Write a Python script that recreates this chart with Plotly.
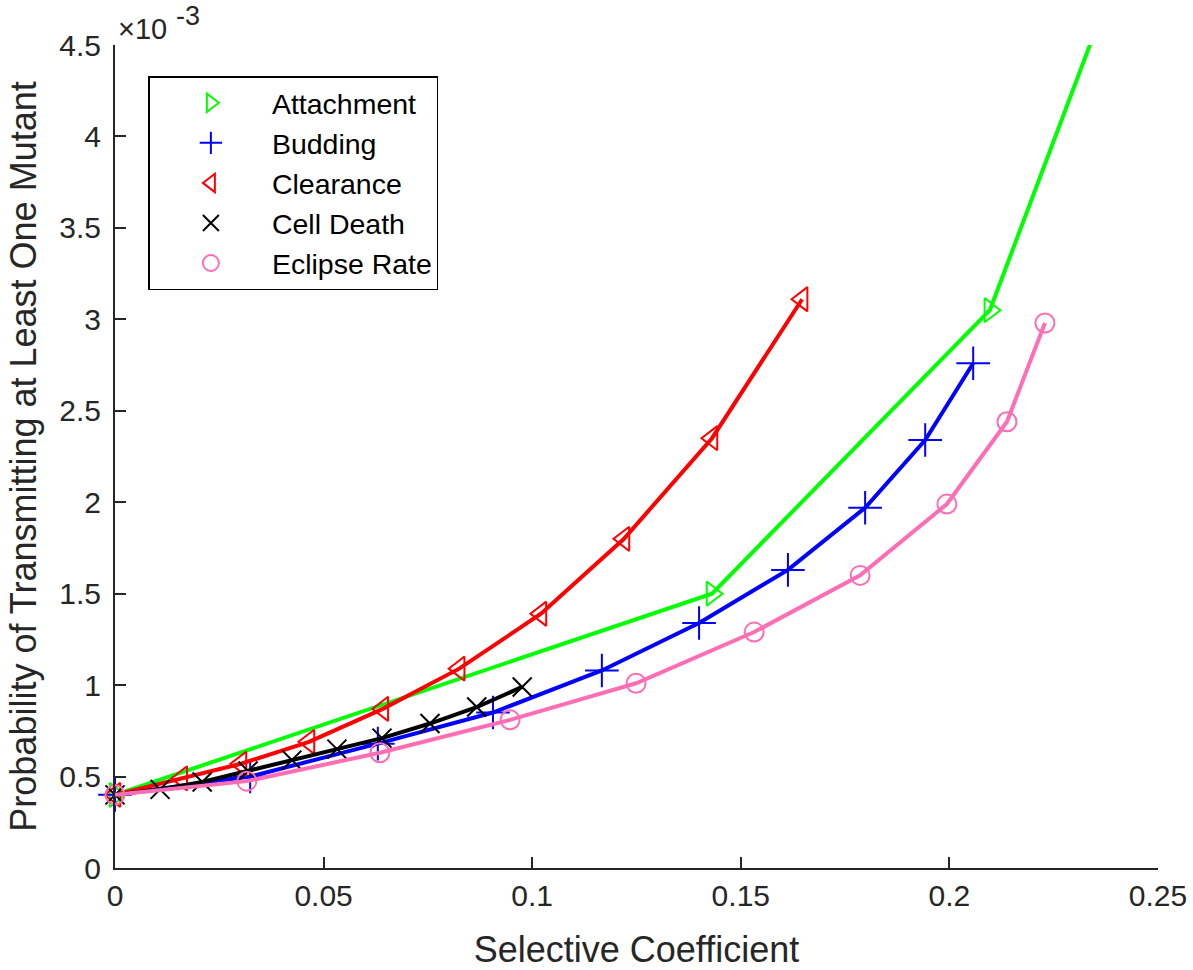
import plotly.graph_objects as go

# ---- data (probability values) ----
att_x = [0.0, 0.1431, 0.2097, 0.2403]
att_y = [0.00040, 0.00150, 0.00305, 0.00490]

bud_x = [0.0, 0.0324, 0.0630, 0.0906, 0.1167, 0.1400, 0.1613, 0.1798, 0.1942, 0.2057]
bud_y = [0.00040, 0.00050, 0.00068, 0.00085, 0.00108, 0.00134, 0.00163, 0.00197, 0.00234, 0.00276]

clr_x = [0.0, 0.0160, 0.0302, 0.0465, 0.0642, 0.0825, 0.1021, 0.1220, 0.1431, 0.1647]
clr_y = [0.00040, 0.00049, 0.00057, 0.00069, 0.00087, 0.00109, 0.00139, 0.00180, 0.00235, 0.00311]

cd_x = [0.0, 0.0108, 0.0209, 0.0319, 0.0424, 0.0532, 0.0640, 0.0755, 0.0867, 0.0976]
cd_y = [0.00040, 0.00043, 0.00047, 0.00053, 0.00059, 0.00065, 0.00071, 0.00079, 0.00088, 0.00099]

ecl_x = [0.0, 0.0316, 0.0635, 0.0947, 0.1249, 0.1532, 0.1786, 0.1994, 0.2138, 0.2229]
ecl_y = [0.00040, 0.000475, 0.00063, 0.00081, 0.00101, 0.00129, 0.00160, 0.00199, 0.00244, 0.00298]

x_ticks = [0, 0.05, 0.1, 0.15, 0.2, 0.25]
x_tick_text = ["0", "0.05", "0.1", "0.15", "0.2", "0.25"]
y_ticks = [0, 0.0005, 0.001, 0.0015, 0.002, 0.0025, 0.003, 0.0035, 0.004, 0.0045]
y_tick_text = ["0", "0.5", "1", "1.5", "2", "2.5", "3", "3.5", "4", "4.5"]

X_RANGE = [0, 0.25]
Y_RANGE = [0, 0.0045]

series = [
    ("Attachment", att_x, att_y, "#00FF00", "triangle-right-open", 21),
    ("Budding", bud_x, bud_y, "#0000FF", "cross-thin-open", 24),
    ("Clearance", clr_x, clr_y, "#FF0000", "triangle-left-open", 21),
    ("Cell Death", cd_x, cd_y, "#000000", "x-thin-open", 19),
    ("Eclipse Rate", ecl_x, ecl_y, "#FF6EB4", "circle-open", 19),
]

FONT = "Liberation Sans, Arial, Helvetica, sans-serif"
AX = "#262626"

fig = go.Figure()
for name, xs, ys, col, sym, msize in series:
    fig.add_trace(go.Scatter(x=xs, y=ys, mode="lines", line=dict(color=col, width=4),
                             showlegend=False, hoverinfo="skip"))
    inx = [x for x, y in zip(xs, ys) if y <= Y_RANGE[1]]
    iny = [y for y in ys if y <= Y_RANGE[1]]
    fig.add_trace(go.Scatter(x=inx, y=iny, mode="markers", name=name, cliponaxis=False,
                             marker=dict(symbol=sym, size=msize, color=col,
                                         line=dict(color=col, width=2))))

fig.update_layout(
    width=1193, height=970,
    margin=dict(l=115, r=35, t=45, b=102),
    paper_bgcolor="white", plot_bgcolor="white",
    font=dict(family=FONT, color=AX),
    legend=dict(x=0.032, y=0.962, xanchor="left", yanchor="top",
                bordercolor="#000000", borderwidth=1.5, bgcolor="white",
                font=dict(family=FONT, size=28.5, color="#000000"),
                itemwidth=112, tracegroupgap=0),
    xaxis=dict(range=X_RANGE, tickvals=x_ticks, ticktext=x_tick_text, automargin=False,
               showgrid=False, zeroline=False, showline=True, linecolor=AX, linewidth=2,
               ticks="inside", ticklen=11, tickwidth=1.5, tickcolor=AX,
               tickfont=dict(size=30, color=AX),
               title=dict(text="Selective Coefficient", font=dict(size=36, color=AX), standoff=26)),
    yaxis=dict(range=Y_RANGE, tickvals=y_ticks, ticktext=y_tick_text, automargin=False,
               showgrid=False, zeroline=False, showline=True, linecolor=AX, linewidth=2,
               ticks="inside", ticklen=11, tickwidth=1.5, tickcolor=AX,
               tickfont=dict(size=30, color=AX), ticklabelstandoff=6,
               title=dict(text="Probability of Transmitting at Least One Mutant",
                          font=dict(size=36, color=AX), standoff=12)),
)

fig.add_annotation(xref="paper", yref="paper", x=0.0, y=1.0, xanchor="left", yanchor="bottom",
                   text="×10", showarrow=False, xshift=1, yshift=-2,
                   font=dict(family=FONT, size=29, color=AX))
fig.add_annotation(xref="paper", yref="paper", x=0.0, y=1.0, xanchor="left", yanchor="bottom",
                   text="-3", showarrow=False, xshift=59, yshift=12,
                   font=dict(family=FONT, size=27, color=AX))

fig.write_html("out.html")
